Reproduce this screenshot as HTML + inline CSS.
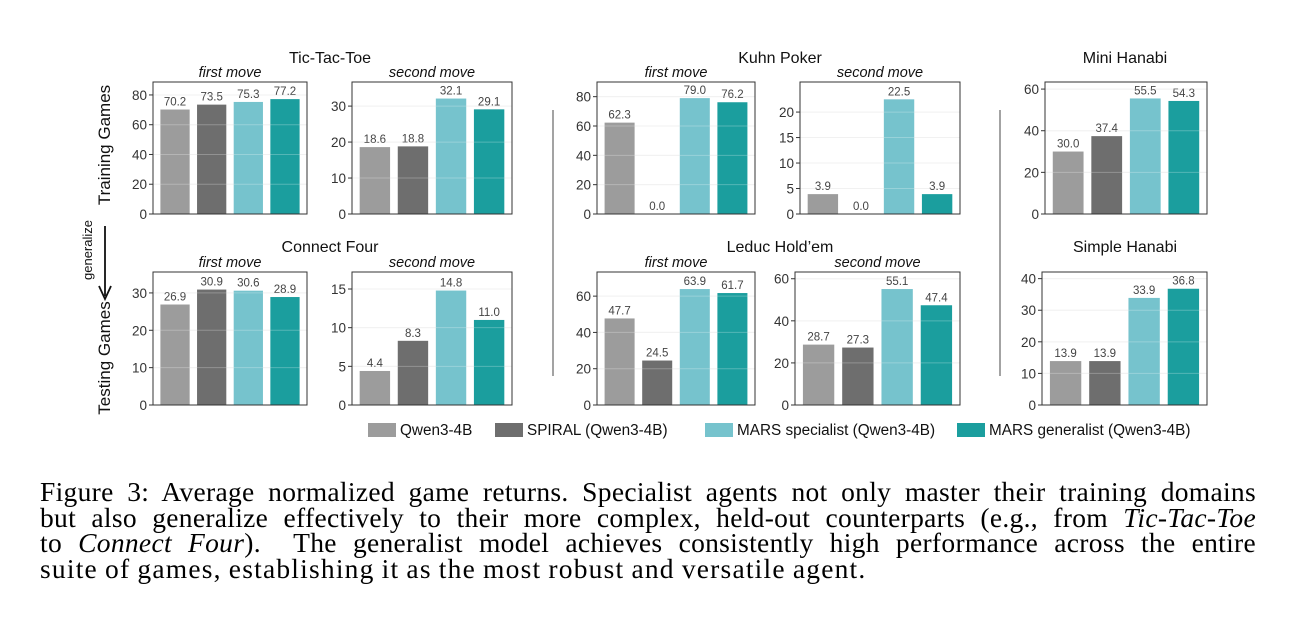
<!DOCTYPE html>
<html><head><meta charset="utf-8"><style>
body{margin:0;background:#fff;width:1294px;height:638px;overflow:hidden;position:relative}
#fig{position:absolute;left:0;top:0}
#cap{position:absolute;left:40px;top:479px;width:1216px;font-family:"Liberation Serif",serif;font-size:27.5px;line-height:25.7px;color:#000;letter-spacing:0.3px;word-spacing:-3px}
#cap div{white-space:nowrap;text-align:justify;text-align-last:justify;height:25.7px}
#cap div.last{text-align-last:left;letter-spacing:1.2px;word-spacing:-1px}
#cap i{font-style:italic}
</style></head><body>
<svg id="fig" width="1294" height="470" xmlns="http://www.w3.org/2000/svg" font-family="Liberation Sans, sans-serif"></svg>
<div id="cap">
<div>Figure 3: Average normalized game returns. Specialist agents not only master their training domains</div>
<div>but also generalize effectively to their more complex, held-out counterparts (e.g., from <i>Tic-Tac-Toe</i></div>
<div>to <i>Connect Four</i>). &nbsp;The generalist model achieves consistently high performance across the entire</div>
<div class="last">suite of games, establishing it as the most robust and versatile agent.</div>
</div>
<script>
const seriesNames=["Qwen3-4B","SPIRAL (Qwen3-4B)","MARS specialist (Qwen3-4B)","MARS generalist (Qwen3-4B)"];
const ticTacToeFirst=[70.2,73.5,75.3,77.2];
const ticTacToeSecond=[18.6,18.8,32.1,29.1];
const kuhnFirst=[62.3,0.0,79.0,76.2];
const kuhnSecond=[3.9,0.0,22.5,3.9];
const miniHanabi=[30.0,37.4,55.5,54.3];
const connectFourFirst=[26.9,30.9,30.6,28.9];
const connectFourSecond=[4.4,8.3,14.8,11.0];
const leducFirst=[47.7,24.5,63.9,61.7];
const leducSecond=[28.7,27.3,55.1,47.4];
const simpleHanabi=[13.9,13.9,33.9,36.8];
const ticks80=[0,20,40,60,80];
const ticks30=[0,10,20,30];
const ticks20=[0,5,10,15,20];
const ticks60=[0,20,40,60];
const ticks15=[0,5,10,15];
const ticks40=[0,10,20,30,40];
const colors=["#9c9c9c","#6e6e6e","#76c3cd","#1b9e9e"];
const svg=document.getElementById('fig');
const NS="http://www.w3.org/2000/svg";
function mk(tag,attrs,parent){const e=document.createElementNS(NS,tag);for(const k in attrs)e.setAttribute(k,attrs[k]);(parent||svg).appendChild(e);return e;}
function txt(s,attrs,parent){const e=mk('text',attrs,parent);e.textContent=s;return e;}
function panel(name,vals,ticks,ymax,x0,x1,y0,y1,sub){
  const g=mk('g',{});
  
  
  const w=x1-x0,h=y1-y0;
  const yS=v=>y1-v/ymax*h;
  const xC=i=>x0+w*(0.143+i*0.238);
  const bw=w*0.19;
  ticks.forEach(t=>{
    mk('line',{x1:x0,x2:x1,y1:yS(t),y2:yS(t),stroke:'#ececec','stroke-width':1},g);
  });
  vals.forEach((v,i)=>{
    const r=mk('rect',{x:xC(i)-bw/2,y:yS(v),width:bw,height:y1-yS(v),fill:colors[i]},g);
    
    
    const l=txt(v.toFixed(1),{x:xC(i),y:yS(v)-4,'text-anchor':'middle','font-size':11.5,fill:'#444'},g);
    
    
  });
  ticks.forEach(t=>{
    if(t>0)mk('line',{x1:x0,x2:x1,y1:yS(t),y2:yS(t),stroke:'#fff','stroke-opacity':0.25,'stroke-width':1},g);
    mk('line',{x1:x0-4,x2:x0,y1:yS(t),y2:yS(t),stroke:'#333','stroke-width':1},g);
    const tl=txt(String(t),{x:x0-6,y:yS(t)+5,'text-anchor':'end','font-size':13.5,fill:'#333'},g);
    
    
  });
  mk('rect',{x:x0,y:y0,width:w,height:h,fill:'none',stroke:'#333','stroke-width':1},g);
  if(sub){const s=txt(sub,{x:(x0+x1)/2,y:y0-5,'text-anchor':'middle','font-size':14.5,'font-style':'italic',fill:'#111'},g);
    }
}
function title(s,x,y){const t=txt(s,{x:x,y:y,'text-anchor':'middle','font-size':16,fill:'#111'});
  }
const R1=[82,214],R2=[272,405];
title("Tic-Tac-Toe",330,63);title("Kuhn Poker",780,63);title("Mini Hanabi",1125,63);
title("Connect Four",330,252);title("Leduc Hold\u2019em",780,252);title("Simple Hanabi",1125,252);
panel('tic-tac-toe-first',ticTacToeFirst,ticks80,88.7,153,307,R1[0],R1[1],'first move');
panel('tic-tac-toe-second',ticTacToeSecond,ticks30,36.7,352,512,R1[0],R1[1],'second move');
panel('kuhn-first',kuhnFirst,ticks80,90,597,755,R1[0],R1[1],'first move');
panel('kuhn-second',kuhnSecond,ticks20,25.9,800,960,R1[0],R1[1],'second move');
panel('mini-hanabi',miniHanabi,ticks60,63.4,1045,1207,R1[0],R1[1],null);
panel('connect-four-first',connectFourFirst,ticks30,35.6,153,307,R2[0],R2[1],'first move');
panel('connect-four-second',connectFourSecond,ticks15,17.2,352,512,R2[0],R2[1],'second move');
panel('leduc-first',leducFirst,ticks60,73.3,597,755,R2[0],R2[1],'first move');
panel('leduc-second',leducSecond,ticks60,63.2,795,960,R2[0],R2[1],'second move');
panel('simple-hanabi',simpleHanabi,ticks40,42.1,1042,1207,R2[0],R2[1],null);
mk('line',{x1:553,x2:553,y1:110,y2:376,stroke:'#666','stroke-width':1.2});
mk('line',{x1:1000,x2:1000,y1:110,y2:376,stroke:'#666','stroke-width':1.2});
const tr=txt("Training Games",{x:0,y:0,'text-anchor':'middle','font-size':17,fill:'#111',transform:'translate(110,145) rotate(-90)'});

const te=txt("Testing Games",{x:0,y:0,'text-anchor':'middle','font-size':17,fill:'#111',transform:'translate(110,358) rotate(-90)'});

const ge=txt("generalize",{x:0,y:0,'text-anchor':'middle','font-size':13,fill:'#111',transform:'translate(92,250) rotate(-90)'});

mk('line',{x1:105,x2:105,y1:226,y2:296,stroke:'#111','stroke-width':1.8});
mk('path',{d:'M99,286 L105,299 L111,286',fill:'none',stroke:'#111','stroke-width':1.8});
const legX=[368,495,705,957];
seriesNames.forEach((n,i)=>{
  const r=mk('rect',{x:legX[i],y:423,width:28,height:14,fill:colors[i]});
  
  
  const t=txt(n,{x:legX[i]+32,y:435,'font-size':15.3,fill:'#111'});
  
  
});
</script>
</body></html>
